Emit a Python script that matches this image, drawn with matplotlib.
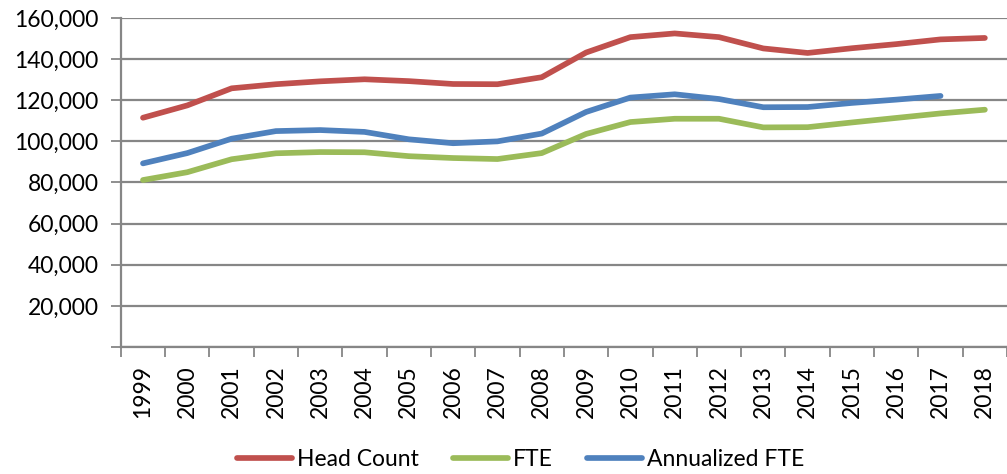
import numpy as np
import matplotlib.pyplot as plt
from matplotlib.ticker import FuncFormatter, MultipleLocator

years = list(range(1999, 2019))
head_count = [111500, 117500, 125800, 127800, 129200, 130200, 129300, 127900, 127800, 131200,
              143200, 150700, 152500, 150700, 145200, 143000, 145300, 147300, 149600, 150300]
fte = [81200, 85000, 91300, 94200, 94800, 94700, 92800, 91900, 91400, 94300,
       103600, 109400, 111000, 111000, 106800, 106900, 109200, 111400, 113600, 115400]
annual_fte = [89300, 94300, 101300, 105000, 105500, 104600, 101000, 99100, 100000, 103800,
              114300, 121300, 122900, 120600, 116600, 116700, 118700, 120300, 122100]

plt.rcParams['font.family'] = ['Lato', 'DejaVu Sans']

fig = plt.figure(figsize=(10.07, 4.74), dpi=100)
ax = fig.add_axes([0.12, 0.268, 0.88, 0.694])

x = np.arange(len(years))
lw = 4.1
ax.plot(x, head_count, color='#C0504D', lw=lw, solid_capstyle='round', solid_joinstyle='round', label='Head Count', zorder=3)
ax.plot(x, fte, color='#9BBB59', lw=lw, solid_capstyle='round', solid_joinstyle='round', label='FTE', zorder=3)
ax.plot(x[:len(annual_fte)], annual_fte, color='#4F81BD', lw=lw, solid_capstyle='round', solid_joinstyle='round', label='Annualized FTE', zorder=3)

ax.set_xlim(-0.5, len(years) - 0.5)
ax.set_ylim(0, 160000)
ax.yaxis.set_major_locator(MultipleLocator(20000))
ax.yaxis.set_major_formatter(FuncFormatter(lambda v, p: '' if v == 0 else f'{int(v):,}'))
ax.grid(axis='y', color='#868686', lw=1.6)
ax.set_axisbelow(True)

ax.set_xticks(x)
ax.set_xticklabels([str(y) for y in years], rotation=90, fontsize=16.5)
ax.set_xticks(np.arange(-0.5, len(years)), minor=True)
ax.tick_params(axis='x', which='major', length=0, pad=13)
ax.tick_params(axis='x', which='minor', length=7, width=1.3, color='#868686')
ax.tick_params(axis='y', length=7, width=1.3, color='#868686', labelsize=16.5, pad=9)

for s in ['top', 'right']:
    ax.spines[s].set_visible(False)
for s in ['left', 'bottom']:
    ax.spines[s].set_color('#868686')
    ax.spines[s].set_linewidth(1.6)

fig.legend(loc='lower center', bbox_to_anchor=(0.517, -0.035), ncol=3, frameon=False,
           fontsize=16.5, handlelength=2.4, columnspacing=1.5, handletextpad=0.2)

fig.savefig('out.png', dpi=100)
